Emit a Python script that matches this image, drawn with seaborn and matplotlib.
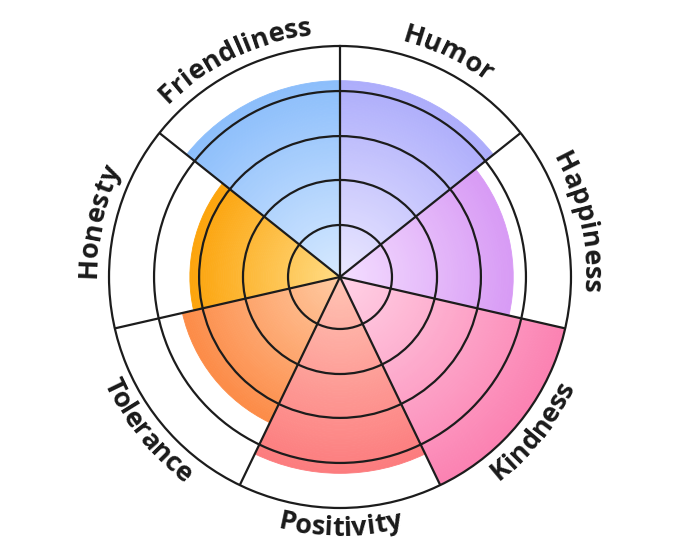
import numpy as np
import matplotlib
matplotlib.use("Agg")
import matplotlib.pyplot as plt
import seaborn as sns
from matplotlib.font_manager import FontProperties

# data (0-10 scale), clockwise from the top
categories = ["Friendliness", "Humor", "Happiness", "Kindness", "Positivity", "Tolerance", "Honesty"]
scores = [8.5, 8.5, 7.5, 10, 8.5, 7, 6.5]
rings = [2.25, 4.2, 6.1, 8.05]

inner_colors = ["#d6e9ff", "#ebe8ff", "#f4deff", "#ffd2e6", "#ffc4b4", "#ffcaa2", "#ffdc84"]
outer_colors = ["#8cbefb", "#adadfb", "#d89bf5", "#fb82b2", "#fc7c7e", "#fc8c48", "#fca40c"]

sns.set_theme(style="white")
plt.rcParams["font.family"] = ["Open Sans", "DejaVu Sans"]

line_col = "#1c1c1c"

fig = plt.figure(figsize=(6.8, 5.57), dpi=100)
ax = fig.add_axes([0.1603, 0.088, 0.6794, 0.8294], projection="polar")
ax.set_theta_zero_location("N")
ax.set_theta_direction(-1)
ax.set_ylim(0, 10)

n = len(categories)
width = 2 * np.pi / n
centers = (np.arange(n) - 0.5) * width

# radial gradient per sector: stack of thin bars
steps = 80
for i, val in enumerate(scores):
    pal = sns.blend_palette([inner_colors[i], outer_colors[i]], steps)
    edges = np.linspace(0, val, steps + 1)
    ax.bar(np.full(steps, centers[i]), np.diff(edges), bottom=edges[:-1],
           width=width, color=pal, edgecolor=pal, linewidth=0.6, zorder=1)

ax.set_xticks(np.arange(n) * width)
ax.set_xticklabels([])
ax.set_yticks(rings)
ax.set_yticklabels([])
ax.tick_params(length=0)
ax.grid(True, color=line_col, linewidth=1.6)
ax.set_axisbelow(False)
ax.spines["polar"].set_color(line_col)
ax.spines["polar"].set_linewidth(1.6)

# curved labels around the rim
fig.canvas.draw()
renderer = fig.canvas.get_renderer()
fp = FontProperties(family=["Open Sans", "DejaVu Sans"], weight="bold", size=19.5)
px_per_unit = ax.bbox.width / 2 / 10
r_top, r_bottom = 10.55, 11.2

for i, cat in enumerate(categories):
    th_c = np.degrees(centers[i]) % 360
    top = np.sin(np.radians(90 - th_c)) > 0
    r_base = r_top if top else r_bottom
    r_px = r_base * px_per_unit
    w = [0.0] + [renderer.get_text_width_height_descent(cat[:k], fp, ismath=False)[0]
                 for k in range(1, len(cat) + 1)]
    total = w[-1]
    for k, ch in enumerate(cat):
        s = (w[k] + w[k + 1]) / 2 - total / 2
        dth = np.degrees(s / r_px)
        if top:
            th = th_c + dth
            rot = -th
        else:
            th = th_c - dth
            rot = 180 - th
        ax.text(np.radians(th), r_base, ch, rotation=rot, rotation_mode="anchor",
                ha="center", va="baseline", fontproperties=fp, color="#1a1a1a")

fig.savefig("out.png", dpi=100, facecolor="white")
